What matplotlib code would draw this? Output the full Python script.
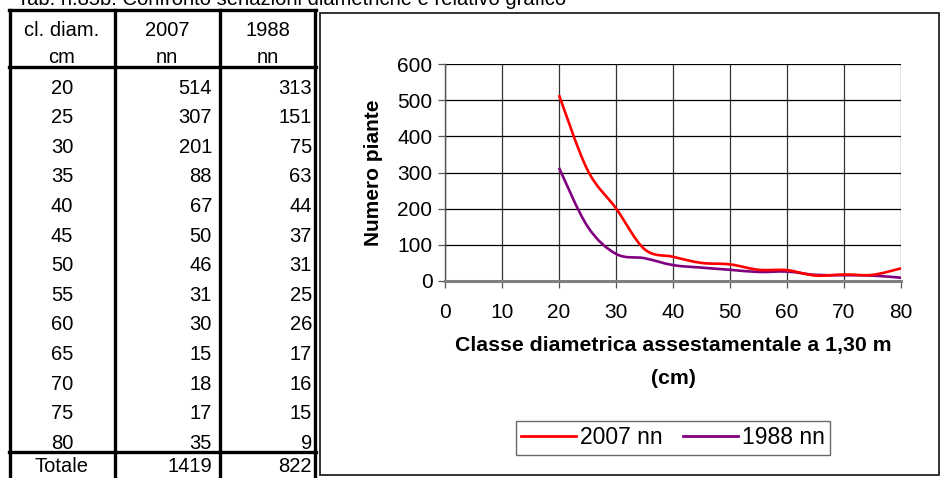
import matplotlib
matplotlib.use("Agg")
import matplotlib.pyplot as plt
from matplotlib.path import Path
from matplotlib.patches import PathPatch, Rectangle
from matplotlib.lines import Line2D
import numpy as np

plt.rcParams['font.family'] = ['Liberation Sans', 'DejaVu Sans']

classi = [20, 25, 30, 35, 40, 45, 50, 55, 60, 65, 70, 75, 80]
nn_2007 = [514, 307, 201, 88, 67, 50, 46, 31, 30, 15, 18, 17, 35]
nn_1988 = [313, 151, 75, 63, 44, 37, 31, 25, 26, 17, 16, 15, 9]
tot_2007 = 1419
tot_1988 = 822

titolo = "Tab. n.85b: Confronto seriazioni diametriche e relativo grafico"
header1 = ["cl. diam.", "2007", "1988"]
header2 = ["cm", "nn", "nn"]
col_red = "#ff0000"
col_purple = "#800080"

W, H = 941, 478
fig = plt.figure(figsize=(W / 100, H / 100), dpi=100)


def fx(px):
    return px / W


def fy(py):
    return 1 - py / H


# ---- title (cut off at the top) ----
fig.text(fx(17), fy(5), titolo, fontsize=14.5, va='baseline', ha='left')

# ---- table ----
lw_t = 2.4
for xpx in [10, 115, 220, 315]:
    fig.add_artist(Line2D([fx(xpx), fx(xpx)], [fy(10), fy(480)], color='black',
                          lw=lw_t, transform=fig.transFigure))
for ypx in [10, 67, 452]:
    fig.add_artist(Line2D([fx(9), fx(316)], [fy(ypx), fy(ypx)], color='black',
                          lw=lw_t, transform=fig.transFigure))

fs_t = 14.5
for txt, xc in zip(header1, [62, 167, 268]):
    fig.text(fx(xc), fy(30), txt, fontsize=fs_t, ha='center', va='center')
for txt, xc in zip(header2, [62, 167, 268]):
    fig.text(fx(xc), fy(57), txt, fontsize=fs_t, ha='center', va='center')

row0 = 88
step = 29.6
for i in range(len(classi)):
    yy = fy(row0 + i * step)
    fig.text(fx(62), yy, str(classi[i]), fontsize=fs_t, ha='center', va='center')
    fig.text(fx(212), yy, str(nn_2007[i]), fontsize=fs_t, ha='right', va='center')
    fig.text(fx(312), yy, str(nn_1988[i]), fontsize=fs_t, ha='right', va='center')
yy = fy(466)
fig.text(fx(62), yy, "Totale", fontsize=fs_t, ha='center', va='center')
fig.text(fx(212), yy, str(tot_2007), fontsize=fs_t, ha='right', va='center')
fig.text(fx(312), yy, str(tot_1988), fontsize=fs_t, ha='right', va='center')

# ---- chart box ----
fig.add_artist(Rectangle((fx(320), fy(475)), fx(939) - fx(320), fy(13) - fy(475),
                         fill=False, edgecolor='#222222', lw=1.3,
                         transform=fig.transFigure))

# ---- chart ----
ax = fig.add_axes([fx(445), fy(281), fx(901) - fx(445), fy(64) - fy(281)])
ax.set_xlim(0, 80)
ax.set_ylim(0, 600)
ax.set_xticks(np.arange(0, 81, 10))
ax.set_yticks(np.arange(0, 601, 100))
ax.grid(axis='y', color='black', lw=0.9)
ax.grid(axis='x', color='#333333', lw=0.9)
ax.set_axisbelow(True)
for s in ['top', 'right']:
    ax.spines[s].set_visible(False)
ax.spines['left'].set_color('#555555')
ax.spines['left'].set_linewidth(1.0)
ax.spines['bottom'].set_color('#808080')
ax.spines['bottom'].set_linewidth(2.2)
ax.tick_params(axis='both', direction='out', length=5, width=0.9,
               color='#555555', labelsize=15, pad=4)
ax.tick_params(axis='x', pad=11)


def smooth_path(xs, ys):
    # excel style smoothed line: bezier segments through the points
    pts = np.column_stack([xs, ys]).astype(float)
    n = len(pts)
    verts = [pts[0]]
    codes = [Path.MOVETO]
    for i in range(n - 1):
        p0 = pts[i - 1] if i > 0 else pts[i]
        p1 = pts[i]
        p2 = pts[i + 1]
        p3 = pts[i + 2] if i + 2 < n else pts[i + 1]
        c1 = p1 + (p2 - p0) / 6.0
        c2 = p2 - (p3 - p1) / 6.0
        verts += [c1, c2, p2]
        codes += [Path.CURVE4] * 3
    return Path(verts, codes)


for ys, col in [(nn_1988, col_purple), (nn_2007, col_red)]:
    ax.add_patch(PathPatch(smooth_path(classi, ys), facecolor='none',
                           edgecolor=col, lw=1.9, capstyle='butt', clip_on=False))

ax.set_ylabel("Numero piante", fontsize=15, fontweight='bold', labelpad=10)
fig.text(fx(673), fy(346), "Classe diametrica assestamentale a 1,30 m",
         fontsize=15.3, fontweight='bold', ha='center', va='center')
fig.text(fx(673), fy(378), "(cm)", fontsize=15.3, fontweight='bold',
         ha='center', va='center')

handles = [Line2D([], [], color=col_red, lw=2), Line2D([], [], color=col_purple, lw=2)]
leg = fig.legend(handles, ["2007 nn", "1988 nn"], loc='center',
                 bbox_to_anchor=(fx(673), fy(438)), ncol=2, fontsize=16.5,
                 frameon=True, fancybox=False, edgecolor='#444444',
                 handlelength=2.4, handletextpad=0.15, columnspacing=0.9,
                 borderpad=0.25, borderaxespad=0)
leg.get_frame().set_linewidth(1.0)

fig.savefig("out.png", dpi=100)
